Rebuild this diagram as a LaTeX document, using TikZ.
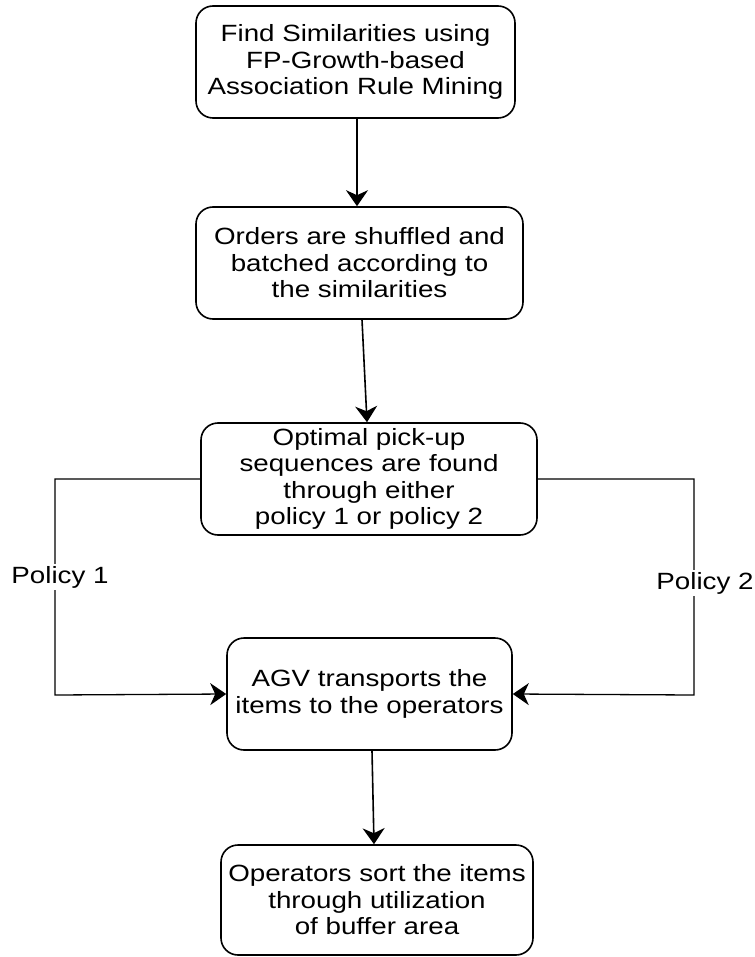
\documentclass[tikz,border=0pt]{standalone}
\usepackage{fontspec}
\setmainfont{Liberation Sans}[FakeStretch=1.18]
\usetikzlibrary{arrows.meta}
\begin{document}
\begin{tikzpicture}[x=1pt,y=-1pt,
  stepbox/.style={draw=black, line width=1.6pt, rounded corners=17pt,
    inner sep=0pt, align=center, font=\fontsize{23.5}{26.5}\selectfont},
  flow/.style={draw=black, line width=1.6pt,
    -{Stealth[length=16pt,width=22pt,inset=5pt]}},
  branch/.style={draw=black, line width=1.3pt,
    -{Stealth[length=16pt,width=22pt,inset=5pt]}},
  tag/.style={fill=white, inner sep=2pt, font=\fontsize{23.5}{26.5}\selectfont}]
\useasboundingbox (0,0) rectangle (754,957);

% process steps
\node[stepbox, minimum width=319pt, minimum height=112pt] (mine) at (355.5,62)
  {Find Similarities using\\FP-Growth-based\\Association Rule Mining};
\node[stepbox, minimum width=327pt, minimum height=112pt] (batch) at (359.5,263)
  {Orders are shuffled and\\batched according to\\the similarities};
\node[stepbox, minimum width=336pt, minimum height=112pt] (seq) at (369,479)
  {Optimal pick-up\\sequences are found\\through either\\policy 1 or policy 2};
\node[stepbox, minimum width=285pt, minimum height=112pt] (agv) at (369.5,694)
  {AGV transports the\\items to the operators};
\node[stepbox, minimum width=312pt, minimum height=110pt] (sort) at (377,900)
  {Operators sort the items\\through utilization\\of buffer area};

% horizontal positions where the main connectors leave and enter the boxes
\coordinate (a1) at (357,0);
\coordinate (a2s) at (362,0);
\coordinate (a2e) at (367,0);
\coordinate (a3s) at (372,0);
\coordinate (a3e) at (374,0);

% corner points of the two policy branches
\coordinate (l1) at (55,479);
\coordinate (l2) at (55,695);
\coordinate (r1) at (694,479);
\coordinate (r2) at (694,695);

% main flow
\draw[flow] (mine.south -| a1) -- (batch.north -| a1);
\draw[flow] (batch.south -| a2s) -- (seq.north -| a2e);
\draw[flow] (agv.south -| a3s) -- (sort.north -| a3e);

% policy branches
\draw[branch] (seq.west) -- (l1) -- (l2) -- (agv.west);
\draw[branch] (seq.east) -- (r1) -- (r2) -- (agv.east);

\node[tag] (p1) at (60,577) {Policy 1};
\node[tag] (p2) at (705,583) {Policy 2};
\end{tikzpicture}
\end{document}
